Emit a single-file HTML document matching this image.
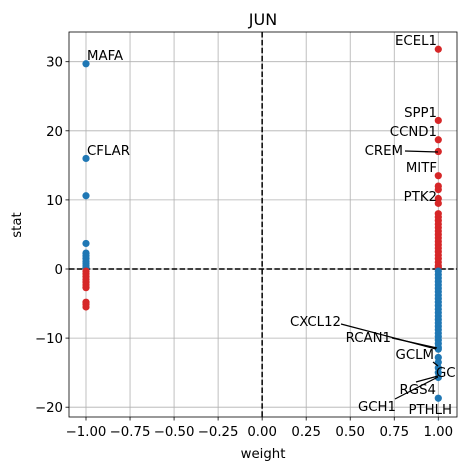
<!DOCTYPE html>
<html><head><meta charset="utf-8"><style>
body{margin:0;background:#fff;font-family:"Liberation Sans","DejaVu Sans",sans-serif;}
svg text{font-family:"DejaVu Sans","Liberation Sans",sans-serif;}
</style></head><body>
<svg id="chart" width="466" height="470" viewBox="0 0 466 470"></svg>
<script>
const xTicks=[-1.00,-0.75,-0.50,-0.25,0.00,0.25,0.50,0.75,1.00];
const yTicks=[-20,-10,0,10,20,30];
const leftStats=[29.7,16.0,10.6,3.7,2.3,1.9,1.5,1.1,0.8,0.5,0.2,-0.3,-0.7,-1.1,-1.5,-1.9,-2.3,-2.7,-4.8,-5.1,-5.5];
const rightStats=[31.8,21.5,18.7,17.0,13.5,12.0,11.5,10.2,9.5,8.0,7.5,7.0,6.5,6.0,5.5,5.0,4.5,4.0,3.5,3.0,2.5,2.0,1.5,1.0,0.5,0.2,
-0.3,-0.8,-1.3,-1.8,-2.3,-2.8,-3.3,-3.8,-4.3,-4.8,-5.3,-5.8,-6.3,-6.8,-7.3,-7.8,-8.3,-8.8,-9.3,-9.8,-10.3,-10.8,-11.3,-11.6,-12.8,-13.5,-14.3,-15.0,-15.7,-18.7];
const X0=69,X1=457,Y0=32,Y1=417;
function sx(v){return 86+(v+1)*176.15;}
function sy(v){return 269-v*6.91;}
const svg=document.getElementById('chart');
const NS='http://www.w3.org/2000/svg';
function mk(t,a,p){const e=document.createElementNS(NS,t);for(const k in a)e.setAttribute(k,a[k]);(p||svg).appendChild(e);return e;}
for(const t of xTicks){const g=mk('line',{x1:sx(t),x2:sx(t),y1:Y0,y2:Y1,stroke:'#b0b0b0','stroke-width':0.8});

mk('line',{x1:sx(t),x2:sx(t),y1:Y1,y2:Y1+3.5,stroke:'#000','stroke-width':0.8});
const tx=mk('text',{x:sx(t),y:Y1+19,'font-size':'13.3','text-anchor':'middle'});tx.textContent=t.toFixed(2).replace('-','\u2212');
}
for(const t of yTicks){const g=mk('line',{x1:X0,x2:X1,y1:sy(t),y2:sy(t),stroke:'#b0b0b0','stroke-width':0.8});

mk('line',{x1:X0-3.5,x2:X0,y1:sy(t),y2:sy(t),stroke:'#000','stroke-width':0.8});
const tx=mk('text',{x:X0-6,y:sy(t)+5,'font-size':'13.3','text-anchor':'end'});tx.textContent=String(t).replace('-','\u2212');
}
const vl=mk('line',{x1:sx(0),x2:sx(0),y1:Y0,y2:Y1,stroke:'#000','stroke-width':1.5,'stroke-dasharray':'5.5,2.4'});

const hl=mk('line',{x1:X0,x2:X1,y1:sy(0),y2:sy(0),stroke:'#000','stroke-width':1.5,'stroke-dasharray':'5.5,2.4'});

function pts(arr,w){for(const s of arr){const c=(w*s>=0)?'#d62728':'#1f77b4';
const p=mk('circle',{cx:sx(w),cy:sy(s),r:3.6,fill:c});
}}
pts(leftStats,-1);pts(rightStats,1);
const labels=[['MAFA',87,60,'start'],['CFLAR',87,155,'start'],['ECEL1',437,45,'end'],['SPP1',437,117,'end'],['CCND1',437,136,'end'],
['CREM',403,155,'end'],['MITF',437,172,'end'],['PTK2',437,201,'end'],['CXCL12',341,326,'end'],['RCAN1',391,342,'end'],
['GCLM',434,359,'end'],['GC',436,377,'start'],['RGS4',436,394,'end'],['GCH1',396,411,'end'],['PTHLH',452,414,'end']];
const leaders=[[405,151,438,152],[341,324,436,349],[392,338,437,348],[433,362,438,366],[416,382,438,376],[395,399,438,377]];
for(const l of leaders){const e=mk('line',{x1:l[0],y1:l[1],x2:l[2],y2:l[3],stroke:'#000','stroke-width':1.2});
}
for(const l of labels){const t=mk('text',{x:l[1],y:l[2],'font-size':'13.3','text-anchor':l[3]});t.textContent=l[0];
}
const fr=mk('rect',{x:X0,y:Y0,width:X1-X0,height:Y1-Y0,fill:'none',stroke:'#000','stroke-width':0.8});

const ti=mk('text',{x:(X0+X1)/2,y:25,'font-size':'16','text-anchor':'middle'});ti.textContent='JUN';

const xl=mk('text',{x:(X0+X1)/2,y:458,'font-size':'13.3','text-anchor':'middle'});xl.textContent='weight';

const yl=mk('text',{x:0,y:0,'font-size':'13.3','text-anchor':'middle',transform:'translate(21,225) rotate(-90)'});yl.textContent='stat';

</script>
</body></html>
